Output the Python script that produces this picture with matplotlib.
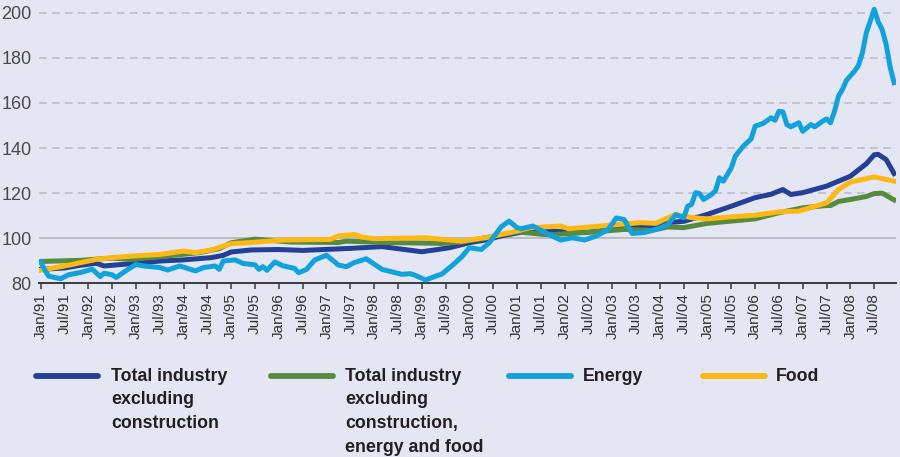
import matplotlib
matplotlib.use("Agg")
import matplotlib.pyplot as plt
from matplotlib.lines import Line2D

# ---------------- data (month index: 0 = Jan/91) ----------------
tick_months = list(range(0, 211, 6))
tick_labels = []
for y in range(91, 100):
    tick_labels += [f"Jan/{y:02d}", f"Jul/{y:02d}"]
for y in range(0, 9):
    tick_labels += [f"Jan/{y:02d}", f"Jul/{y:02d}"]

total_m = [0, 6, 10, 14, 16, 24, 30, 36, 43, 46, 48, 53, 60, 66, 78, 86, 96, 100,
           103, 108, 112, 116, 120, 124, 130, 137, 145, 154, 158, 162, 168, 174,
           180, 184, 187, 189, 192, 198, 204, 208, 210, 211, 213, 215]
total_v = [86.2, 86.8, 88.0, 88.9, 87.7, 88.9, 89.9, 90.4, 91.4, 92.4, 93.9, 94.8,
           95.0, 94.6, 95.5, 96.3, 94.0, 95.0, 95.8, 98.0, 99.2, 101.0, 102.3, 103.5,
           103.0, 102.5, 104.2, 105.4, 106.9, 107.5, 110.6, 114.2, 118.0, 119.5,
           121.6, 119.4, 120.2, 123.1, 127.5, 133.0, 137.0, 137.2, 134.9, 128.7]

core_m = [0, 10, 18, 23, 31, 40, 45, 48, 54, 63, 75, 77, 88, 101, 106, 112, 120,
          128, 137, 147, 154, 158, 162, 168, 180, 186, 192, 198, 199, 201, 204,
          208, 210, 212, 215]
core_v = [89.7, 90.2, 91.2, 90.6, 92.0, 93.6, 95.4, 98.0, 99.6, 98.3, 98.1, 98.7,
          98.1, 97.7, 98.3, 100.2, 102.8, 101.5, 102.5, 103.9, 103.5, 105.0, 104.7,
          106.6, 108.6, 111.3, 113.5, 114.5, 114.5, 116.3, 117.2, 118.5, 119.8,
          120.0, 117.0]

energy_m = [0, 1, 2, 5, 7, 10, 13, 15, 16, 18, 19, 22, 24, 26, 30, 32, 35, 39, 41,
            44, 45, 46, 49, 51, 54, 55, 56, 57, 59, 61, 64, 65, 67, 69, 72, 75, 77,
            79, 82, 86, 91, 93, 94, 97, 100, 101, 104, 106, 108, 111, 113, 116, 118,
            120, 121, 124, 128, 131, 134, 137, 140, 143, 145, 147, 149, 152, 155,
            158, 160, 162, 163, 164, 165, 166, 167, 169, 170, 171, 172, 174, 175,
            177, 179, 180, 182, 184, 185, 186, 187, 188, 189, 191, 192, 194, 195,
            197, 198, 199, 200, 201, 202, 203, 205, 206, 207, 208, 210, 211, 212,
            213, 214, 215]
energy_v = [89.5, 86.0, 83.2, 82.0, 83.8, 84.8, 86.3, 83.0, 84.5, 83.8, 82.6, 86.2,
            88.4, 87.7, 87.0, 85.9, 87.7, 85.5, 87.0, 87.7, 86.2, 89.9, 90.4, 88.8,
            88.2, 86.2, 87.4, 85.8, 89.5, 87.8, 86.6, 84.7, 86.2, 90.3, 92.5, 88.1,
            87.4, 89.2, 90.9, 86.2, 84.0, 84.3, 83.8, 81.5, 83.5, 84.0, 88.4, 91.6,
            95.8, 95.0, 98.0, 105.0, 107.6, 104.7, 104.2, 105.4, 101.7, 99.2, 100.2,
            99.2, 101.0, 103.9, 109.0, 108.3, 102.1, 102.5, 103.9, 106.0, 110.5,
            109.1, 114.2, 115.0, 120.2, 119.8, 117.2, 119.4, 121.0, 126.8, 125.3,
            131.2, 136.4, 140.8, 144.1, 149.7, 150.9, 153.4, 152.3, 156.3, 156.0,
            150.4, 149.4, 151.2, 147.4, 150.4, 149.4, 151.9, 152.9, 151.2, 156.3,
            163.0, 166.0, 170.0, 174.0, 176.5, 182.0, 191.0, 201.5, 196.0, 192.5,
            186.0, 176.0, 169.0]

food_m = [0, 6, 14, 18, 23, 30, 36, 39, 43, 48, 53, 61, 73, 75, 79, 81, 84, 97,
          106, 112, 120, 123, 131, 133, 141, 151, 155, 158, 160, 164, 168, 174,
          180, 186, 191, 198, 201, 204, 210, 215]
food_v = [85.8, 87.7, 90.6, 91.4, 92.1, 92.8, 94.3, 93.6, 94.8, 97.6, 98.1, 99.2,
          99.5, 101.0, 101.7, 100.5, 99.8, 100.2, 98.7, 100.2, 103.2, 104.6, 105.4,
          104.2, 105.4, 106.9, 106.6, 109.0, 110.6, 109.1, 108.6, 109.5, 110.2,
          111.7, 112.0, 115.7, 121.6, 124.9, 127.2, 125.3]

series_labels = ["Total industry\nexcluding\nconstruction",
                 "Total industry\nexcluding\nconstruction,\nenergy and food",
                 "Energy", "Food"]
y_ticks = [80, 100, 120, 140, 160, 180, 200]

# ---------------- style ----------------
BG = "#E4E6F3"
C_TOTAL = "#233F96"
C_CORE = "#568A3E"
C_ENERGY = "#12A2DB"
C_FOOD = "#FDB913"

fig = plt.figure(figsize=(9, 4.57), dpi=100, facecolor=BG)
ax = fig.add_axes([0.043, 0.380, 0.9526, 0.607])
ax.set_facecolor(BG)

lw = 3.6
ax.plot(total_m, total_v, color=C_TOTAL, lw=lw, solid_joinstyle="round", zorder=3)
ax.plot(core_m, core_v, color=C_CORE, lw=lw, solid_joinstyle="round", zorder=4)
ax.plot(food_m, food_v, color=C_FOOD, lw=lw, solid_joinstyle="round", zorder=5)
ax.plot(energy_m, energy_v, color=C_ENERGY, lw=lw, solid_joinstyle="round", zorder=6)

ax.set_xlim(-0.5, 215.5)
ax.set_ylim(80, 203)

# grid lines
for v in y_ticks[2:]:
    ax.axhline(v, color="#B9BAC4", lw=1.1, ls=(0, (5, 3.5)), zorder=1)
ax.axhline(100, color="#B0B0B6", lw=1.1, zorder=1)

for s in ["top", "right", "left"]:
    ax.spines[s].set_visible(False)
ax.spines["bottom"].set_color("#3A3A3A")
ax.spines["bottom"].set_linewidth(1.4)

ax.set_yticks(y_ticks)
ax.set_yticklabels([str(v) for v in y_ticks])
ax.tick_params(axis="y", length=0, pad=5, labelsize=13, labelcolor="#4A4A4A")
ax.set_xticks(tick_months)
ax.set_xticklabels(tick_labels, rotation=90)
ax.tick_params(axis="x", length=4, width=1.1, color="#3A3A3A", pad=3,
               labelsize=11, labelcolor="#333333")
for t in ax.get_xticklabels() + ax.get_yticklabels():
    t.set_fontfamily(["Liberation Sans", "DejaVu Sans"])

# ---------------- legend ----------------
W, H = 900.0, 457.0
handle_x = [(36, 98), (271, 333), (509, 571), (703, 765)]
text_x = [111, 345, 583, 776]
colors = [C_TOTAL, C_CORE, C_ENERGY, C_FOOD]
for (x0, x1), tx, c, lab in zip(handle_x, text_x, colors, series_labels):
    fig.add_artist(Line2D([x0 / W, x1 / W], [1 - 376 / H, 1 - 376 / H],
                          transform=fig.transFigure, color=c, lw=4.2,
                          solid_capstyle="round"))
    fig.text(tx / W, 1 - 368 / H, lab, ha="left", va="top", fontsize=12.8,
             fontweight="bold", color="#231F20", linespacing=1.5,
             family=["Liberation Sans", "DejaVu Sans"])

fig.savefig("out.png", dpi=100, facecolor=BG)
